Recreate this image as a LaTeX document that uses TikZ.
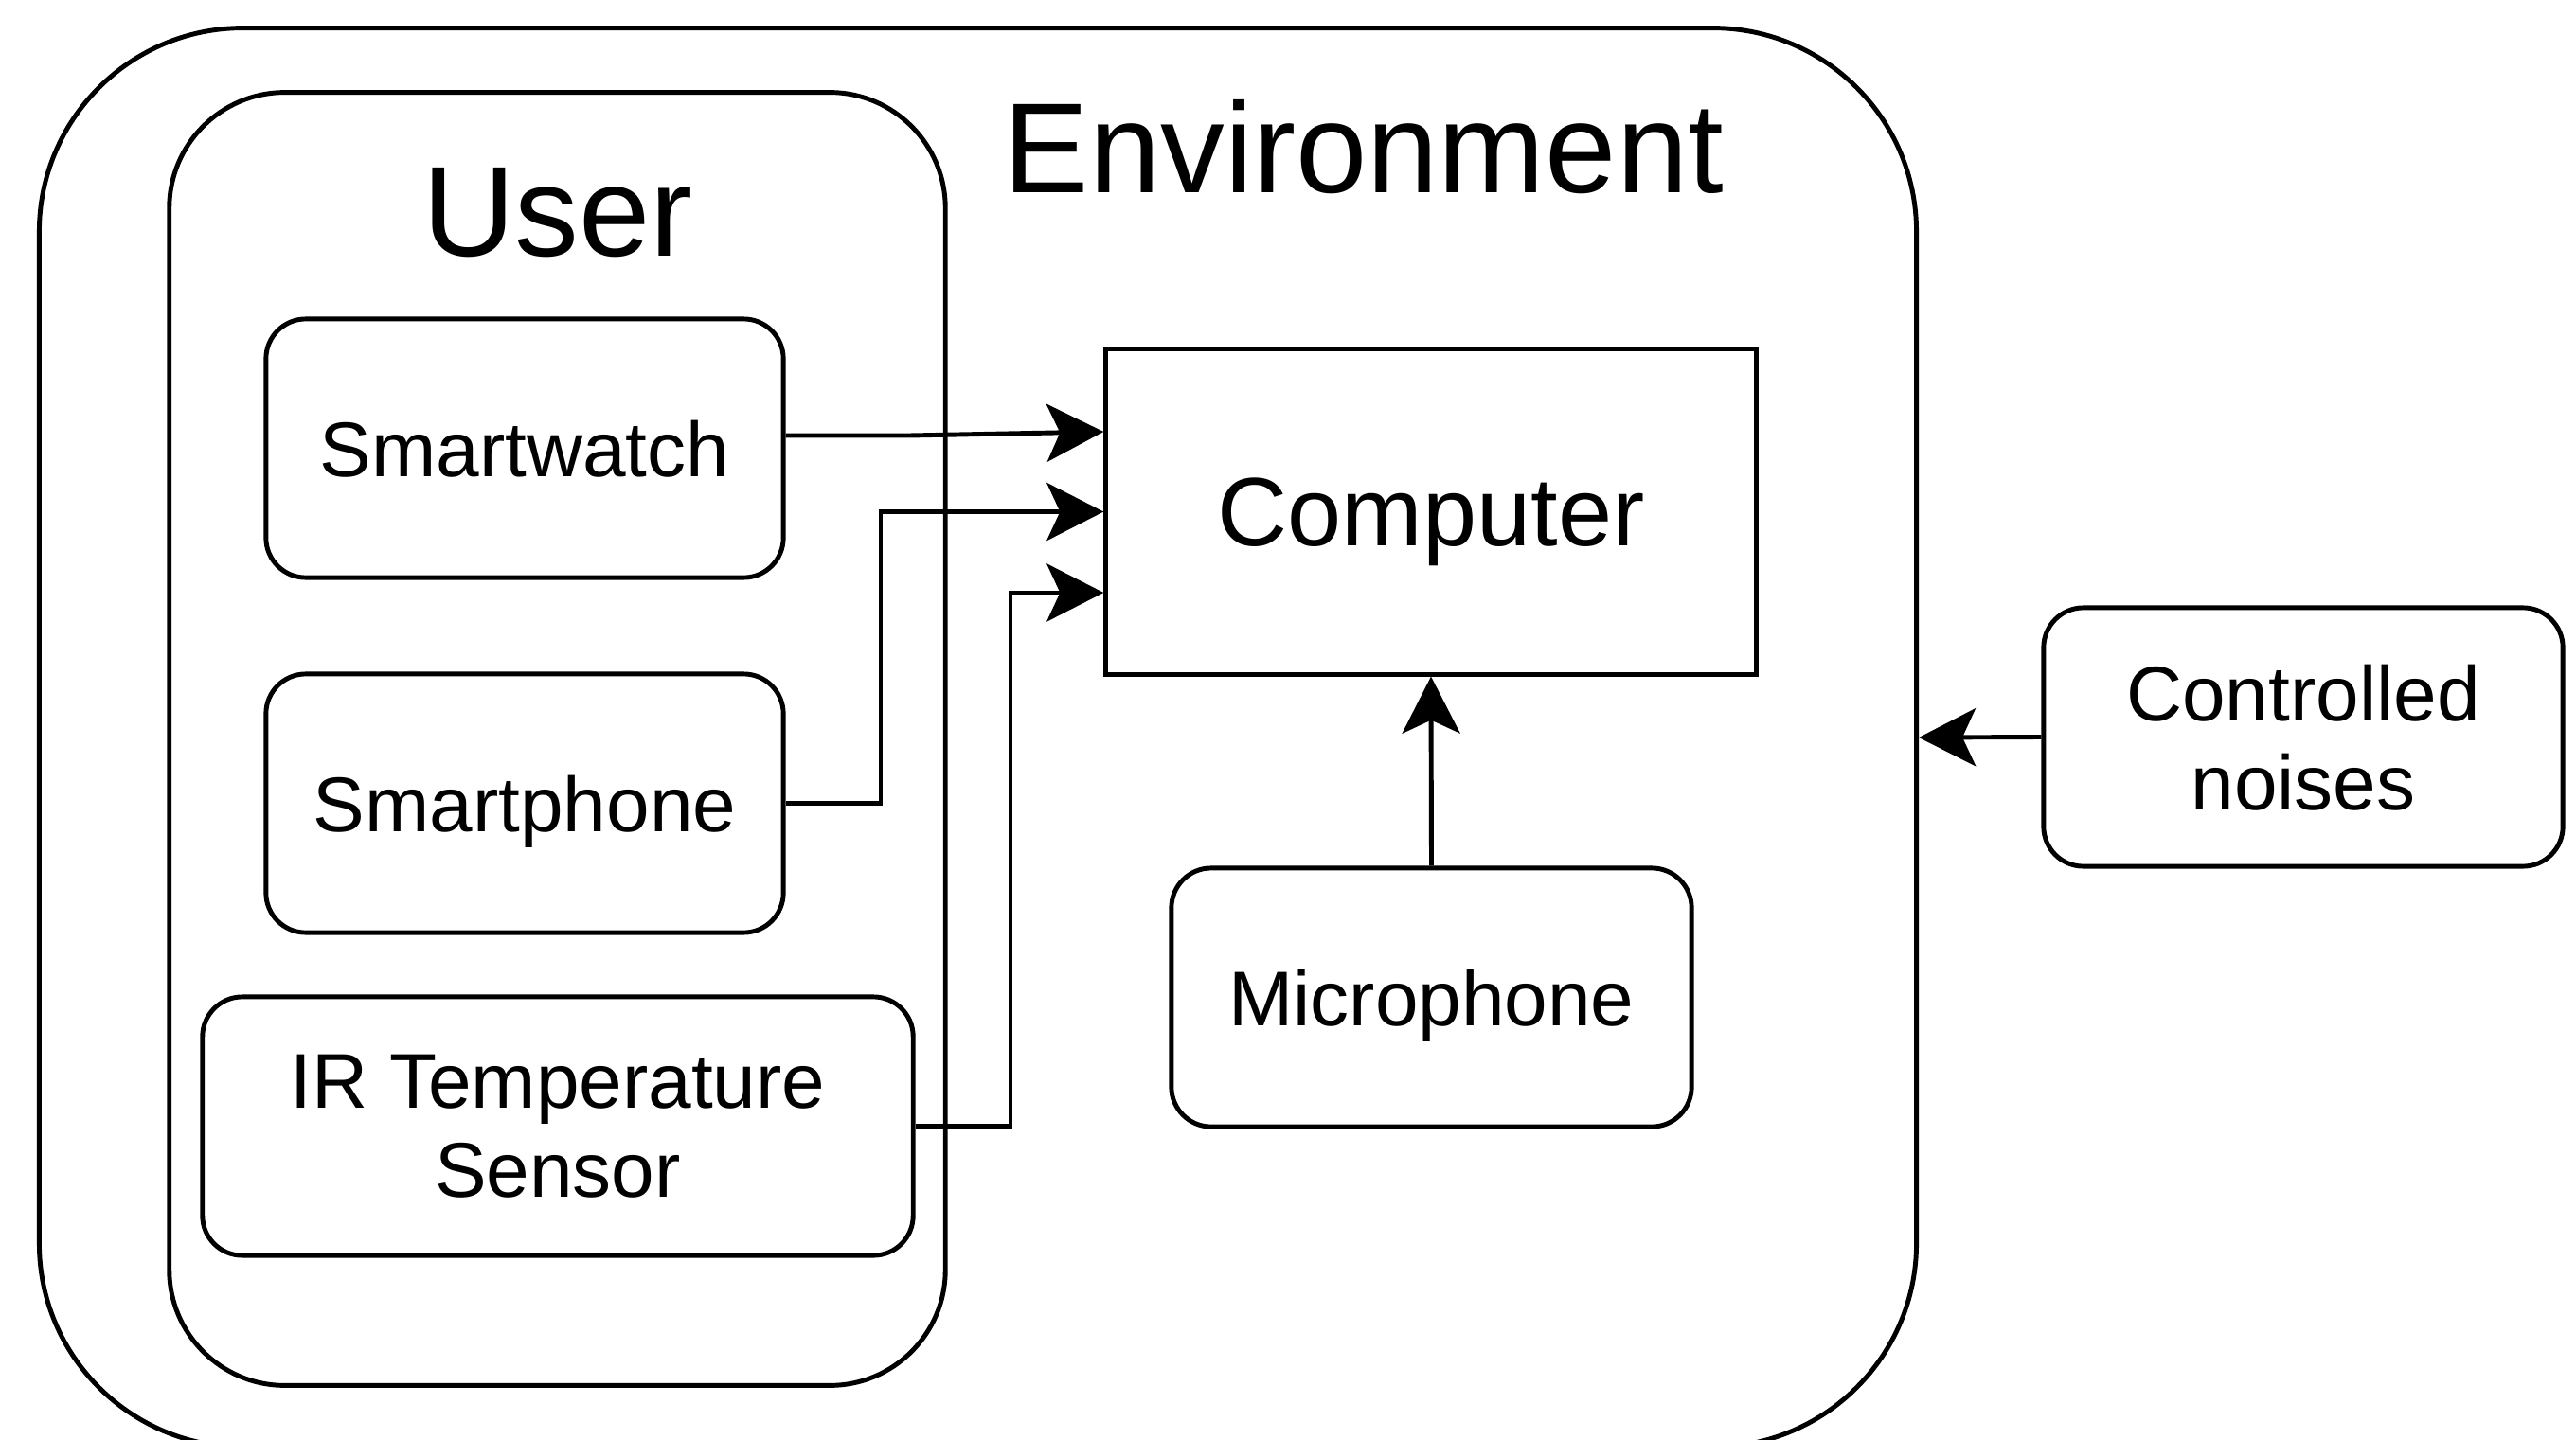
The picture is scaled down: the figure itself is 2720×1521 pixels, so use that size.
\documentclass[tikz,border=0pt]{standalone}
\usepackage{fontspec}
\setmainfont{Liberation Sans}
\usetikzlibrary{arrows.meta}

\begin{document}
\begin{tikzpicture}[x=0.01cm, y=-0.01cm, line width=1.4pt,
    device/.style={draw, rounded corners=0.42cm, minimum width=5.46cm,
      minimum height=2.73cm, align=center, text depth=0pt,
      font=\fontsize{23.3}{26.7}\selectfont},
    title/.style={anchor=base, font=\fontsize{38.5}{46}\selectfont},
    flow/.style={-{Stealth[length=0.6cm, width=0.61cm, inset=0.14cm]}}]
  \clip (0,0) rectangle (2720,1521);
  % containers
  \node (env) [draw, rounded corners=2.15cm, minimum width=19.81cm,
    minimum height=14.98cm] at (1032.5,779) {};
  \node (user) [draw, rounded corners=1.22cm, minimum width=8.19cm,
    minimum height=13.65cm] at (588.5,780.5) {};
  \node (envtitle) [title] at (1440,203) {Environment};
  \node (usertitle) [title] at (589,270) {User};
  % devices
  \node (watch) [device] at (554,473.5) {Smartwatch};
  \node (phone) [device] at (554,848.5) {Smartphone};
  \node (irsensor) [device, minimum width=7.5cm] at (589,1189.5) {IR Temperature\\Sensor};
  \node (computer) [draw, minimum width=6.86cm, minimum height=3.43cm,
    text depth=0pt, font=\fontsize{29.2}{35}\selectfont] at (1511,540.5) {Computer};
  \node (mic) [device, minimum width=5.49cm] at (1511.5,1053.5) {Microphone};
  \node (noises) [device, minimum width=5.48cm] at (2432,778.5) {Controlled\\noises};
  % connections
  \draw [flow] (watch.east |- 0,460) -- (960,460) -- (computer.west |- 0,456);
  \draw [flow] (phone.east) -| (930,540.5) -- (computer.west);
  \draw [flow] (irsensor.east) -| (1067,626) -- (computer.west |- 0,626);
  \draw [flow] (mic.north) -- (computer.south);
  \draw [flow] (noises.west) -- (env.east);
\end{tikzpicture}
\end{document}
